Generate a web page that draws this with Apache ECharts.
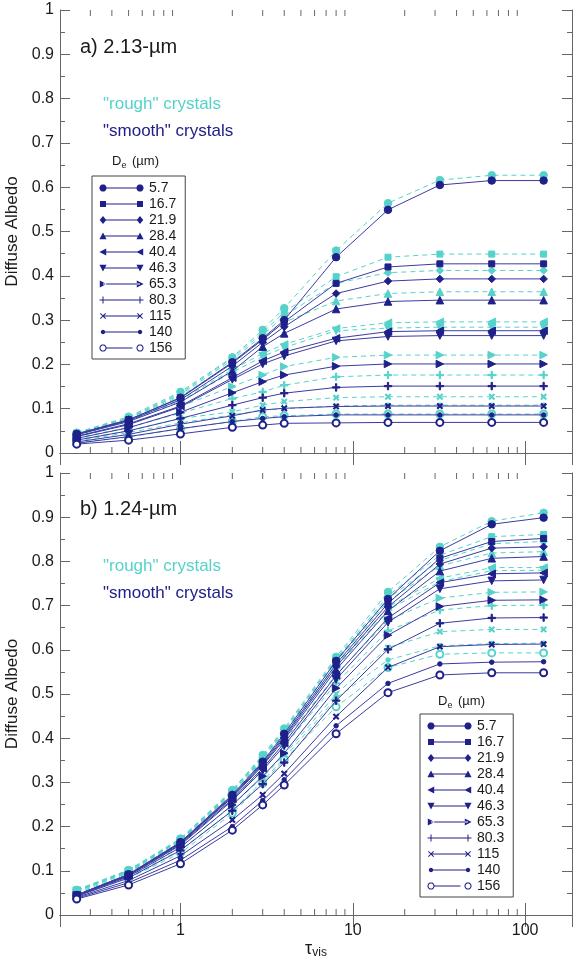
<!DOCTYPE html>
<html><head><meta charset="utf-8">
<script src="https://cdn.jsdelivr.net/npm/echarts@6/dist/echarts.min.js"></script>
<style>html,body{margin:0;padding:0;background:#fff}#c{width:574px;height:959px}</style>
</head><body><div id="c"></div>
<script>
// optical depth values (x)
const tau = [0.25, 0.5, 1, 2, 3, 4, 8, 16, 32, 64, 128];
// effective diameters (legend entries)
const sizes = ['5.7', '16.7', '21.9', '28.4', '40.4', '46.3', '65.3', '80.3', '115', '140', '156'];
// minor tick positions on the log axis
const xMinorTicks = [0.3, 0.4, 0.5, 0.6, 0.7, 0.8, 0.9, 2, 3, 4, 5, 6, 7, 8, 9, 20, 30, 40, 50, 60, 70, 80, 90];

// a) 2.13 um, rows follow `sizes`
const albedo213Smooth = [
  [0.043,0.075,0.125,0.205,0.259,0.300,0.442,0.549,0.605,0.615,0.615],
  [0.043,0.075,0.124,0.203,0.256,0.296,0.383,0.420,0.427,0.427,0.427],
  [0.042,0.073,0.120,0.196,0.250,0.285,0.360,0.388,0.393,0.393,0.393],
  [0.041,0.071,0.115,0.185,0.240,0.270,0.325,0.342,0.345,0.345,0.345],
  [0.038,0.066,0.106,0.170,0.208,0.228,0.259,0.274,0.276,0.276,0.276],
  [0.037,0.064,0.104,0.166,0.201,0.219,0.253,0.263,0.265,0.265,0.265],
  [0.033,0.057,0.092,0.136,0.161,0.176,0.196,0.201,0.201,0.201,0.201],
  [0.029,0.050,0.078,0.108,0.125,0.135,0.148,0.151,0.151,0.151,0.151],
  [0.025,0.042,0.065,0.084,0.097,0.101,0.105,0.106,0.106,0.106,0.106],
  [0.022,0.037,0.055,0.071,0.078,0.082,0.086,0.086,0.086,0.086,0.086],
  [0.020,0.029,0.043,0.058,0.063,0.067,0.068,0.069,0.069,0.069,0.069]
];
const albedo213Rough = [
  [0.046,0.082,0.138,0.216,0.278,0.327,0.457,0.564,0.616,0.627,0.627],
  [0.045,0.080,0.135,0.214,0.272,0.318,0.398,0.442,0.449,0.449,0.449],
  [0.045,0.079,0.132,0.210,0.266,0.310,0.383,0.407,0.412,0.412,0.412],
  [0.044,0.078,0.128,0.203,0.256,0.295,0.343,0.360,0.364,0.364,0.364],
  [0.042,0.074,0.120,0.188,0.225,0.245,0.281,0.294,0.296,0.296,0.296],
  [0.041,0.072,0.117,0.182,0.218,0.238,0.276,0.282,0.284,0.284,0.284],
  [0.037,0.065,0.105,0.150,0.176,0.195,0.216,0.221,0.221,0.221,0.221],
  [0.034,0.058,0.090,0.123,0.138,0.153,0.172,0.176,0.176,0.176,0.176],
  [0.030,0.050,0.078,0.093,0.108,0.116,0.125,0.127,0.127,0.127,0.127],
  [0.027,0.046,0.068,0.086,0.097,0.100,0.106,0.108,0.108,0.108,0.108],
  [0.023,0.036,0.055,0.071,0.082,0.084,0.088,0.088,0.088,0.088,0.088]
];
// b) 1.24 um
const albedo124Smooth = [
  [0.045,0.092,0.165,0.272,0.347,0.410,0.575,0.715,0.824,0.884,0.899],
  [0.045,0.092,0.164,0.270,0.344,0.405,0.568,0.705,0.807,0.845,0.852],
  [0.045,0.091,0.163,0.268,0.341,0.401,0.562,0.697,0.794,0.830,0.833],
  [0.045,0.091,0.162,0.266,0.338,0.397,0.555,0.688,0.778,0.807,0.811],
  [0.044,0.090,0.160,0.262,0.332,0.389,0.542,0.672,0.752,0.772,0.774],
  [0.044,0.089,0.158,0.259,0.327,0.383,0.533,0.662,0.738,0.756,0.758],
  [0.043,0.087,0.153,0.249,0.314,0.366,0.513,0.633,0.698,0.712,0.713],
  [0.042,0.084,0.146,0.236,0.296,0.345,0.485,0.601,0.660,0.672,0.673],
  [0.040,0.078,0.134,0.215,0.272,0.320,0.449,0.560,0.607,0.612,0.613],
  [0.038,0.073,0.124,0.200,0.259,0.306,0.428,0.524,0.568,0.572,0.573],
  [0.036,0.068,0.116,0.192,0.249,0.294,0.410,0.503,0.543,0.548,0.548]
];
const albedo124Rough = [
  [0.057,0.102,0.173,0.283,0.362,0.422,0.584,0.731,0.833,0.891,0.910],
  [0.056,0.101,0.172,0.281,0.359,0.419,0.580,0.722,0.814,0.856,0.861],
  [0.056,0.100,0.171,0.280,0.357,0.416,0.577,0.716,0.802,0.840,0.845],
  [0.056,0.100,0.170,0.278,0.355,0.413,0.573,0.710,0.790,0.819,0.822],
  [0.055,0.099,0.169,0.276,0.352,0.409,0.566,0.697,0.762,0.786,0.786],
  [0.055,0.098,0.168,0.274,0.349,0.405,0.560,0.690,0.754,0.779,0.780],
  [0.054,0.097,0.165,0.268,0.341,0.394,0.544,0.667,0.717,0.730,0.731],
  [0.053,0.095,0.161,0.261,0.330,0.382,0.524,0.643,0.690,0.700,0.701],
  [0.051,0.091,0.154,0.248,0.312,0.362,0.500,0.605,0.641,0.646,0.646],
  [0.049,0.087,0.147,0.236,0.303,0.355,0.490,0.577,0.609,0.614,0.615],
  [0.047,0.083,0.140,0.230,0.298,0.351,0.471,0.560,0.590,0.593,0.593]
];

const NAVY = '#20208a', NAVY_LINE = '#3b3ba2', CYAN = '#55d3ca', AXIS = '#666', TXT = '#1a1a1a';
const FONT = '"Liberation Sans", Arial, Helvetica, sans-serif';
const PLUS = 'path://M2.5,0H3.5V2.5H6V3.5H3.5V6H2.5V3.5H0V2.5H2.5Z';
const markerKinds = [
  {symbol:'circle', size:7.5, rot:0},
  {symbol:'rect', size:6, rot:0},
  {symbol:'diamond', size:7.5, rot:0},
  {symbol:'triangle', size:7.5, rot:0},
  {symbol:'triangle', size:7.5, rot:90},
  {symbol:'triangle', size:7.5, rot:180},
  {symbol:'triangle', size:7.5, rot:-90},
  {symbol:PLUS, size:7.5, rot:0},
  {symbol:PLUS, size:6.5, rot:45},
  {symbol:'circle', size:4.5, rot:0},
  {symbol:'emptyCircle', size:7, rot:0}
];

// legend icon: line with a marker at both ends (45 x 8 box)
function polyCircle(cx, cy, r, ccw) {
  const n = 20; let s = '';
  for (let i = 0; i < n; i++) {
    const a = (ccw ? -1 : 1) * 2 * Math.PI * i / n;
    s += (i ? 'L' : 'M') + (cx + r * Math.cos(a)).toFixed(2) + ',' + (cy + r * Math.sin(a)).toFixed(2);
  }
  return s + 'Z';
}
function iconPath(k) {
  const W = 45, cs = [4, 41];
  let p = 'M0,0M' + W + ',8';
  if (k === 10) p += `M7.5,3.5H33.5V4.5H7.5Z`; else p += `M4,3.5H41V4.5H4Z`;
  cs.forEach(cx => {
    switch (k) {
      case 0: p += polyCircle(cx, 4, 3.6, false); break;
      case 1: p += `M${cx-3},1H${cx+3}V7H${cx-3}Z`; break;
      case 2: p += `M${cx},0L${cx+3.3},4L${cx},8L${cx-3.3},4Z`; break;
      case 3: p += `M${cx},0.5L${cx+3.6},7.3L${cx-3.6},7.3Z`; break;
      case 4: p += `M${cx-3.6},4L${cx+3.2},0.4L${cx+3.2},7.6Z`; break;
      case 5: p += `M${cx-3.6},0.7L${cx+3.6},0.7L${cx},7.5Z`; break;
      case 6: p += `M${cx+3.6},4L${cx-3.2},0.4L${cx-3.2},7.6Z`; break;
      case 7: p += `M${cx-0.5},0.5H${cx+0.5}V7.5H${cx-0.5}ZM${cx-3.5},3.5H${cx+3.5}V4.5H${cx-3.5}Z`; break;
      case 8: p += `M${cx-3},1.7L${cx-2.3},1L${cx+3},6.3L${cx+2.3},7ZM${cx-2.3},7L${cx-3},6.3L${cx+2.3},1L${cx+3},1.7Z`; break;
      case 9: p += polyCircle(cx, 4, 2.2, false); break;
      case 10: p += polyCircle(cx, 4, 3.6, false) + polyCircle(cx, 4, 2.5, true); break;
    }
  });
  return 'path://' + p;
}

function lineSeries(name, values, kind, rough, xi, yi) {
  const m = markerKinds[kind];
  const col = rough ? CYAN : NAVY;
  return {
    type: 'line', name: name, xAxisIndex: xi, yAxisIndex: yi,
    data: tau.map((t, i) => [t, values[i]]),
    symbol: m.symbol, symbolSize: m.size, symbolRotate: m.rot, showSymbol: true,
    lineStyle: {color: rough ? CYAN : NAVY_LINE, width: 1, type: rough ? [5, 4] : 'solid'},
    itemStyle: {color: col, borderColor: col},
    emphasis: {disabled: true}, silent: true, z: rough ? 2 : 3
  };
}

function minorTicks(xi, yi) {
  return {
    type: 'custom', xAxisIndex: xi, yAxisIndex: yi, silent: true, clip: false, z: 4,
    data: xMinorTicks.map(v => [v, 0]),
    renderItem(params, api) {
      const v = api.value(0);
      const b = api.coord([v, 0]), t = api.coord([v, 1]);
      const st = {stroke: AXIS, lineWidth: 1};
      return {type: 'group', children: [
        {type: 'line', shape: {x1: b[0], y1: b[1], x2: b[0], y2: b[1] - 6}, style: st},
        {type: 'line', shape: {x1: t[0], y1: t[1], x2: t[0], y2: t[1] + 6}, style: st}
      ]};
    }
  };
}

function xAxisDef(grid, pos, labels) {
  return {
    type: 'log', logBase: 10, gridIndex: grid, position: pos, min: 0.2, max: 187,
    axisLine: {show: true, lineStyle: {color: AXIS, width: 1}},
    axisTick: {show: true, inside: true, length: 12, lineStyle: {color: AXIS}},
    splitLine: {show: false},
    axisLabel: {show: labels, showMinLabel: false, showMaxLabel: false, fontSize: 16, color: TXT, fontFamily: FONT, margin: 8},
    name: labels ? '{t|τ}{s|vis}' : '', nameLocation: 'middle', nameGap: 24,
    nameTextStyle: {rich: {
      t: {fontSize: 18, fontFamily: FONT, color: TXT, lineHeight: 20, verticalAlign: 'middle'},
      s: {fontSize: 12, fontFamily: FONT, color: TXT, lineHeight: 20, verticalAlign: 'bottom', padding: [6, 0, 0, 0]}
    }}
  };
}
function yAxisDef(grid, pos, labels) {
  return {
    type: 'value', gridIndex: grid, position: pos, min: 0, max: 1, interval: 0.1,
    axisLine: {show: true, lineStyle: {color: AXIS, width: 1}},
    axisTick: {show: true, inside: true, length: 10, lineStyle: {color: AXIS}},
    minorTick: {show: true, splitNumber: 2, length: 5, lineStyle: {color: AXIS}},
    splitLine: {show: false},
    axisLabel: {show: labels, fontSize: 16, color: TXT, fontFamily: FONT, margin: 6},
    name: labels ? 'Diffuse Albedo' : '', nameLocation: 'middle', nameGap: 34,
    nameTextStyle: {fontSize: 17, fontFamily: FONT, color: TXT}
  };
}

const series = [];
[[albedo213Rough, albedo213Smooth, 0], [albedo124Rough, albedo124Smooth, 2]].forEach(([r, s, ai]) => {
  r.forEach((vals, k) => series.push(lineSeries('r' + sizes[k], vals, k, true, ai, ai)));
  s.forEach((vals, k) => series.push(lineSeries(sizes[k], vals, k, false, ai, ai)));
  series.push(minorTicks(ai, ai));
});

function legendDef(left, top) {
  return {
    left: left, top: top, orient: 'vertical', selectedMode: false,
    data: sizes.map((s, k) => ({name: s, icon: iconPath(k)})),
    itemWidth: 45, itemHeight: 8, itemGap: 0, symbolKeepAspect: false,
    padding: [4, 9, 3, 7], borderColor: '#444', borderWidth: 1, backgroundColor: '#fff',
    textStyle: {fontSize: 14, fontFamily: FONT, color: TXT, lineHeight: 16}
  };
}
function label(text, left, top, size, color) {
  return {text: text, left: left, top: top, padding: 0,
    textStyle: {fontSize: size, fontWeight: 'normal', color: color, fontFamily: FONT}};
}
const deRich = {
  d: {fontSize: 13, fontWeight: 'normal', fontFamily: FONT, color: TXT, lineHeight: 18, verticalAlign: 'middle'},
  e: {fontSize: 9, fontWeight: 'normal', fontFamily: FONT, color: TXT, lineHeight: 18, verticalAlign: 'bottom', padding: [5, 2, 0, 0]}
};
function deTitle(left, top) {
  return {text: '{d|D}{e|e}{d| (µm)}', left: left, top: top, padding: 0,
    textStyle: {fontWeight: 'normal', rich: deRich}};
}

const option = {
  animation: false,
  backgroundColor: '#fff',
  textStyle: {fontFamily: FONT},
  grid: [
    {left: 60, top: 10, right: 2, height: 443, outerBoundsMode: 'none'},
    {left: 60, top: 473, right: 2, height: 442, outerBoundsMode: 'none'}
  ],
  xAxis: [xAxisDef(0, 'bottom', false), xAxisDef(0, 'top', false), xAxisDef(1, 'bottom', true), xAxisDef(1, 'top', false)],
  yAxis: [yAxisDef(0, 'left', true), yAxisDef(0, 'right', false), yAxisDef(1, 'left', true), yAxisDef(1, 'right', false)],
  title: [
    label('a) 2.13-µm', 80, 37, 20, TXT),
    label('"rough" crystals', 103, 96, 17, CYAN),
    label('"smooth" crystals', 103, 123, 17, NAVY),
    deTitle(112, 152),
    label('b) 1.24-µm', 80, 499, 20, TXT),
    label('"rough" crystals', 103, 558, 17, CYAN),
    label('"smooth" crystals', 103, 585, 17, NAVY),
    deTitle(438, 692)
  ],
  legend: [legendDef(92, 176), legendDef(420, 714)],
  series: series
};
const chart = echarts.init(document.getElementById('c'), null, {renderer: 'canvas'});
chart.setOption(option);
</script></body></html>
